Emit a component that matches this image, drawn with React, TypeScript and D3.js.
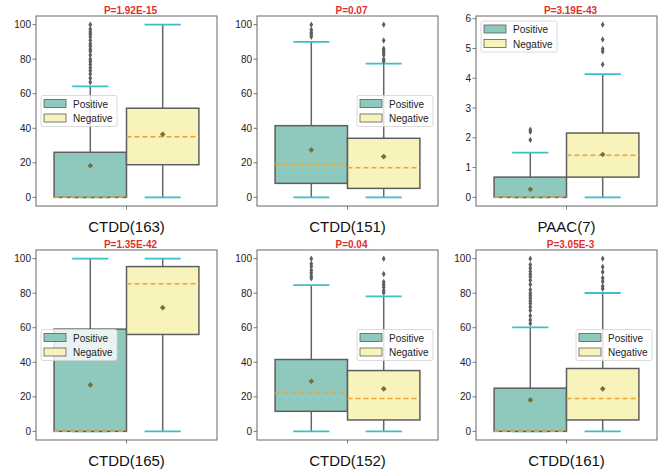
import React from 'react';
import * as d3 from 'd3';

// feature names, p-values and box statistics
const features = ['CTDD(163)', 'CTDD(151)', 'PAAC(7)', 'CTDD(165)', 'CTDD(152)', 'CTDD(161)'];
const pValues = ['P=1.92E-15', 'P=0.07', 'P=3.19E-43', 'P=1.35E-42', 'P=0.04', 'P=3.05E-3'];
const groups = ['Positive', 'Negative'];
const legendLoc = ['center left', 'center right', 'upper left', 'center left', 'center right', 'center right'];

// [whisker low, q1, median, q3, whisker high]
const positiveBox = [
  [0, 0, 0, 26.1, 64.3],
  [0, 8.1, 19.1, 41.5, 90],
  [0, 0, 0, 0.68, 1.5],
  [0, 0, 0, 59.2, 100],
  [0, 11.6, 22.2, 41.6, 84.7],
  [0, 0, 0, 25, 60.2],
];
const negativeBox = [
  [0, 18.9, 35.1, 51.6, 100],
  [0, 5.2, 17.2, 34.2, 77.4],
  [0, 0.68, 1.41, 2.16, 4.14],
  [0, 56.1, 85.5, 95.4, 100],
  [0, 6.6, 19, 35.2, 78.1],
  [0, 6.6, 19, 36.4, 80.1],
];
const positiveMean = [18.3, 27.4, 0.27, 26.9, 29, 18.2];
const negativeMean = [36.5, 23.6, 1.44, 71.6, 24.6, 24.6];
const positiveFliers = [
  [66.7, 69, 71.4, 73.3, 75, 76.9, 78.6, 80, 82.4, 84.6, 85.7, 87.5, 88.9, 90.9, 92.9, 94.4, 95.7, 97.4, 100],
  [93, 94.4, 95.5, 97, 100],
  [1.93, 2.2, 2.27],
  [],
  [88.6, 90, 91.7, 93.3, 95.5, 97, 100],
  [62.5, 64.5, 67, 70, 72, 74, 75.5, 77, 78.5, 80, 82, 85, 87.5, 89.5, 91, 92.5, 94.5, 96.5, 100],
];
const negativeFliers = [
  [],
  [78.8, 80, 82.4, 83.8, 85, 86.1, 90.8, 100],
  [4.46, 4.9, 4.98, 5.3, 5.8],
  [],
  [80.3, 81.6, 83.4, 84.9, 86.5, 91.1, 100],
  [82.6, 84, 86.8, 88.8, 92.3, 95.2, 100],
];

const W = 666;
const H = 476;
const colLeft = [36, 257, 476];
const rowTop = [16, 250];
const plotW = 181;
const plotH = 190;
const fills = ['#8fc9be', '#f7f3ba'];
const font = 'Liberation Sans, Arial, sans-serif';

const meanSym = d3.symbol(d3.symbolSquare, 16)();
const flierSym = d3.symbol(d3.symbolDiamond, 12)();

function Panel({ i }: { i: number }) {
  const left = colLeft[i % 3];
  const top = rowTop[Math.floor(i / 3)];
  const boxes = [positiveBox[i], negativeBox[i]];
  const means = [positiveMean[i], negativeMean[i]];
  const fliers = [positiveFliers[i], negativeFliers[i]];
  const all = [...boxes.flat(), ...fliers.flat()];
  const lo = d3.min(all) as number;
  const hi = d3.max(all) as number;
  const pad = (hi - lo) * 0.05;

  const x = d3.scaleLinear().domain([-0.5, 0.5]).range([0, plotW]);
  const y = d3.scaleLinear().domain([lo - pad, hi + pad]).range([plotH, 0]);
  const ticks = hi > 10 ? d3.range(0, 101, 20) : d3.range(0, 7, 1);
  const centers = [-0.2, 0.2];
  const half = 0.2;

  const loc = legendLoc[i];
  const lw = 76;
  const lh = 31;
  const lx = loc.includes('left') ? 5 : plotW - 5 - lw;
  const ly = loc.includes('upper') ? 5 : (plotH - lh) / 2;

  return (
    <g transform={`translate(${left},${top})`}>
      {ticks.map((t) => (
        <g key={t} transform={`translate(0,${y(t)})`}>
          <line x1={-3.5} x2={0} stroke="#555" strokeWidth={0.8} />
          <text x={-5} dy="0.35em" textAnchor="end" fontSize={10} fontFamily={font} fill="#222">
            {t}
          </text>
        </g>
      ))}
      <line x1={x(0)} x2={x(0)} y1={plotH} y2={plotH + 3.5} stroke="#555" strokeWidth={0.8} />

      {boxes.map((b, k) => {
        const cx = x(centers[k]);
        const capL = x(centers[k] - half / 2);
        const capR = x(centers[k] + half / 2);
        return (
          <g key={k}>
            <line x1={cx} x2={cx} y1={y(b[0])} y2={y(b[4])} stroke="#666" strokeWidth={1.5} />
            <line x1={capL} x2={capR} y1={y(b[0])} y2={y(b[0])} stroke="#3cc0c8" strokeWidth={1.8} />
            <line x1={capL} x2={capR} y1={y(b[4])} y2={y(b[4])} stroke="#3cc0c8" strokeWidth={1.8} />
            <rect
              x={x(centers[k] - half)}
              width={x(centers[k] + half) - x(centers[k] - half)}
              y={y(b[3])}
              height={y(b[1]) - y(b[3])}
              fill={fills[k]}
              stroke="#5e5e5e"
              strokeWidth={1.5}
            />
            <line
              x1={x(centers[k] - half)}
              x2={x(centers[k] + half)}
              y1={y(b[2])}
              y2={y(b[2])}
              stroke="#f0a52c"
              strokeWidth={1.5}
              strokeDasharray="5,3"
            />
            <path d={meanSym} transform={`translate(${cx},${y(means[k])}) rotate(45)`} fill="#6e7240" />
            {fliers[k].map((v, j) => (
              <path key={j} d={flierSym} transform={`translate(${cx},${y(v)})`} fill="#5e5e5e" />
            ))}
          </g>
        );
      })}

      <rect x={0} y={0} width={plotW} height={plotH} fill="none" stroke="#666" strokeWidth={1} />

      <g transform={`translate(${lx},${ly})`}>
        <rect width={lw} height={lh} rx={2} fill="white" fillOpacity={0.8} stroke="#d0d0d0" strokeWidth={0.8} />
        {groups.map((g, k) => (
          <g key={g} transform={`translate(3,${4 + k * 14.5})`}>
            <rect width={22} height={8} fill={fills[k]} stroke="#5e5e5e" strokeWidth={0.8} />
            <text x={29} y={8} fontSize={10} fontFamily={font} fill="#222">
              {g}
            </text>
          </g>
        ))}
      </g>

      <text x={plotW / 2 + 4} y={-2} textAnchor="middle" fontSize={10} fontWeight="bold" fontFamily={font} fill="#e0302e">
        {pValues[i]}
      </text>
      <text x={x(0)} y={216} textAnchor="middle" fontSize={15} fontFamily={font} fill="#111">
        {features[i]}
      </text>
    </g>
  );
}

export default function App() {
  return (
    <svg width={W} height={H} style={{ position: 'absolute', left: 0, top: 0, background: 'white' }}>
      {features.map((f, i) => (
        <Panel key={f} i={i} />
      ))}
    </svg>
  );
}
